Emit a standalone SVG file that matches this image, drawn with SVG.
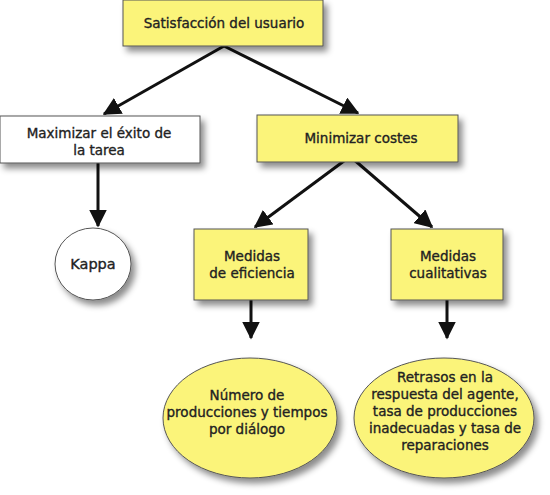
<svg xmlns="http://www.w3.org/2000/svg" width="550" height="495" viewBox="0 0 550 495">
<defs>
<filter id="sh" x="-20%" y="-20%" width="150%" height="160%">
<feDropShadow dx="4" dy="5" stdDeviation="3" flood-color="#000" flood-opacity="0.45"/>
</filter>
<marker id="ah" markerWidth="6" markerHeight="6" refX="5.5" refY="3" orient="auto" markerUnits="strokeWidth">
<path d="M0,0 L6,3 L0,6 Z" fill="#111"/>
</marker>
<style>
.box{fill:#fbf47a;stroke:#555;stroke-width:1;filter:url(#sh)}
.wbox{fill:#fff;stroke:#555;stroke-width:1;filter:url(#sh)}
.t{font-family:"DejaVu Sans",Verdana,sans-serif;font-size:13.5px;fill:#222;stroke:#222;stroke-width:0.35;text-anchor:middle}
.c{stroke:#111;stroke-width:3;fill:none;marker-end:url(#ah)}
</style>
</defs>
<g id="connectors">
<line class="c" x1="224" y1="46" x2="104" y2="114"/>
<line class="c" x1="224" y1="46" x2="358" y2="113"/>
<line class="c" x1="98" y1="163" x2="98" y2="226"/>
<line class="c" x1="348" y1="158" x2="255" y2="227"/>
<line class="c" x1="352" y1="158" x2="432" y2="227"/>
<line class="c" x1="251" y1="300" x2="251" y2="338"/>
<line class="c" x1="447" y1="300" x2="447" y2="338"/>
</g>
<g id="n1">
<rect class="box" x="123" y="0" width="200" height="46"/>
<text class="t" x="224" y="28">Satisfacción del usuario</text>
</g>
<g id="n2">
<rect class="wbox" x="0" y="116" width="200" height="47"/>
<text class="t" x="99" y="138">Maximizar el éxito de</text>
<text class="t" x="99" y="155">la tarea</text>
</g>
<g id="n3">
<rect class="box" x="257" y="115" width="201" height="47"/>
<text class="t" x="361" y="143">Minimizar costes</text>
</g>
<g id="n4">
<ellipse cx="93" cy="264" rx="38" ry="36" fill="#fff" stroke="#555" stroke-width="1" filter="url(#sh)"/>
<text class="t" x="93" y="269" style="font-size:14.5px">Kappa</text>
</g>
<g id="n5">
<rect class="box" x="194" y="229" width="114" height="71"/>
<text class="t" x="252" y="261">Medidas</text>
<text class="t" x="252" y="278">de eficiencia</text>
</g>
<g id="n6">
<rect class="box" x="391" y="229" width="112" height="71"/>
<text class="t" x="448" y="261">Medidas</text>
<text class="t" x="448" y="278">cualitativas</text>
</g>
<g id="n7">
<ellipse cx="250" cy="418" rx="87" ry="60" class="box"/>
<text class="t" x="247" y="400">Número de</text>
<text class="t" x="247" y="417">producciones y tiempos</text>
<text class="t" x="247" y="434">por diálogo</text>
</g>
<g id="n8">
<ellipse cx="444" cy="418" rx="90" ry="60" class="box"/>
<text class="t" x="445" y="382">Retrasos en la</text>
<text class="t" x="445" y="399">respuesta del agente,</text>
<text class="t" x="445" y="416">tasa de producciones</text>
<text class="t" x="445" y="433">inadecuadas y tasa de</text>
<text class="t" x="445" y="450">reparaciones</text>
</g>
</svg>
